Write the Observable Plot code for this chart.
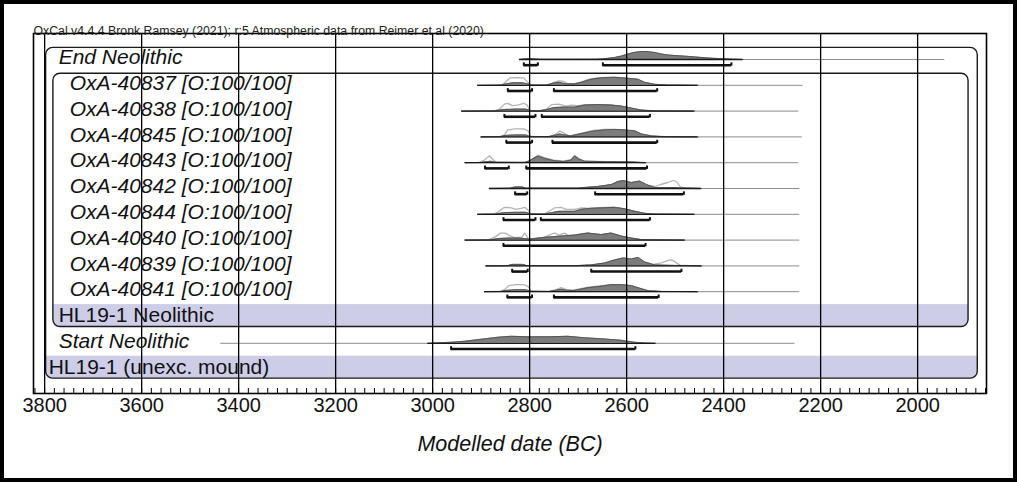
<!DOCTYPE html>
<html><head><meta charset="utf-8">
<script src="https://cdn.jsdelivr.net/npm/d3@7"></script>
<script src="https://cdn.jsdelivr.net/npm/@observablehq/plot@0.6"></script>
<style>
html,body{margin:0;padding:0;background:#fff;}
#wrap{position:relative;width:1017px;height:482px;overflow:hidden;background:#fff;}
#wrap svg{position:absolute;left:0;top:0;}
#border{position:absolute;left:0;top:0;width:1017px;height:482px;box-sizing:border-box;border:4px solid #000;pointer-events:none;}
</style></head><body><div id="wrap"></div>
<script>
// ---------- data ----------
const header = "OxCal v4.4.4 Bronk Ramsey (2021); r:5 Atmospheric data from Reimer et al (2020)";
const axisTitle = "Modelled date (BC)";
const xTicks = [3800, 3600, 3400, 3200, 3000, 2800, 2600, 2400, 2200, 2000];

const rowLabels = [
  "End Neolithic",
  "OxA-40837 [O:100/100]",
  "OxA-40838 [O:100/100]",
  "OxA-40845 [O:100/100]",
  "OxA-40843 [O:100/100]",
  "OxA-40842 [O:100/100]",
  "OxA-40844 [O:100/100]",
  "OxA-40840 [O:100/100]",
  "OxA-40839 [O:100/100]",
  "OxA-40841 [O:100/100]",
  "HL19-1 Neolithic",
  "Start Neolithic",
  "HL19-1 (unexc. mound)"
];
const rowItalic = [true, true, true, true, true, true, true, true, true, true, false, true, false];
const rowDepth  = [1, 2, 2, 2, 2, 2, 2, 2, 2, 2, 1, 1, 0];

// full extent of each row's line (years BC)
const priorSpan = [
  [2821, 1944], [2907, 2236], [2940, 2245], [2900, 2238], [2933, 2245],
  [2883, 2243], [2907, 2243], [2933, 2243], [2890, 2243], [2893, 2243],
  null, [3437, 2253], null
];
// extent of the modelled (posterior) support
const postSpan = [
  [2821, 2360], [2907, 2453], [2940, 2460], [2900, 2453], [2933, 2560],
  [2883, 2446], [2907, 2460], [2933, 2480], [2890, 2445], [2893, 2453],
  null, [3010, 2540], null
];

// 95.4% ranges
const ranges = [
  [[2812, 2783], [2649, 2384]],
  [[2845, 2795], [2750, 2537]],
  [[2852, 2788], [2775, 2552]],
  [[2848, 2795], [2753, 2537]],
  [[2892, 2843], [2807, 2558]],
  [[2830, 2805], [2665, 2482]],
  [[2854, 2788], [2777, 2552]],
  [[2854, 2561]],
  [[2836, 2804], [2673, 2487]],
  [[2846, 2795], [2750, 2534]],
  null,
  [[2962, 2582]],
  null
];

// unmodelled likelihoods (outline) : [year BC, relative height]
const likelihood = [
  null,
  [[2907,0],[2870,0],[2855,1],[2848,4],[2840,7.5],[2825,7.7],[2812,7.5],[2804,3],[2798,0.5],[2780,0.3],[2760,0.5],[2750,3],[2740,4.5],[2730,4],[2722,1.5],[2710,1.5],[2695,3],[2680,6],[2660,7.5],[2640,8],[2620,8],[2600,7],[2580,6],[2565,3],[2545,1],[2520,0.3],[2453,0]],
  [[2940,0],[2875,0],[2862,2],[2852,7],[2845,7.7],[2836,5.5],[2825,6],[2812,7.7],[2805,6],[2800,0.5],[2780,0.3],[2765,2],[2755,6.5],[2740,7],[2725,5],[2715,6],[2700,5.5],[2680,6.5],[2660,6.5],[2640,6.5],[2620,5.5],[2600,4],[2585,2],[2560,0.5],[2460,0]],
  [[2900,0],[2862,0],[2852,2],[2845,7],[2830,8],[2812,8],[2803,6],[2798,0.5],[2760,0.3],[2745,3],[2738,6],[2730,4],[2720,1],[2705,2],[2690,4],[2670,6.5],[2645,7.5],[2625,7.5],[2604,7],[2583,6],[2570,3],[2549,1],[2520,0.3],[2453,0]],
  [[2933,0],[2905,0],[2895,2],[2883,7],[2875,3],[2869,0.5],[2820,0.3],[2800,1],[2790,5],[2783,7.5],[2770,5],[2750,2.5],[2730,1.5],[2715,3],[2707,7.5],[2698,4],[2687,1.5],[2640,1],[2590,0.8],[2570,0.2],[2560,0]],
  [[2883,0],[2840,0.2],[2830,1.5],[2815,1.5],[2808,0.3],[2700,0.3],[2680,1],[2659,2],[2631,3.5],[2618,5.5],[2607,6],[2590,4.5],[2573,5.5],[2559,3],[2542,2],[2530,4],[2515,6],[2504,8],[2497,7],[2490,2],[2480,0.5],[2446,0]],
  [[2907,0],[2875,0.3],[2866,2],[2852,7],[2838,6.5],[2828,5],[2818,6],[2810,7],[2803,4],[2798,0.5],[2770,0.3],[2760,3],[2748,6.5],[2735,7],[2725,5],[2707,5],[2693,6.5],[2673,6],[2650,7],[2625,7],[2604,5.5],[2583,3],[2563,1],[2542,0.3],[2460,0]],
  [[2933,0],[2885,0.3],[2872,3],[2860,7],[2850,7],[2840,4],[2830,2.5],[2816,3],[2810,7],[2805,3],[2800,0.5],[2790,1],[2770,3],[2755,6],[2748,7],[2740,5],[2728,7],[2720,4.5],[2707,5],[2690,6.5],[2680,7],[2665,6],[2652,5.5],[2632,7],[2611,4],[2590,2],[2570,0.5],[2480,0]],
  [[2890,0],[2845,0.2],[2836,1.5],[2815,1.5],[2806,0.3],[2700,0.3],[2673,1],[2645,2.5],[2625,4.5],[2607,6],[2590,5],[2576,6.5],[2563,3.5],[2545,1.5],[2528,3],[2515,5.5],[2508,6],[2500,4],[2490,0.8],[2470,0.3],[2445,0]],
  [[2893,0],[2862,0.2],[2852,2],[2843,6],[2828,7],[2812,7],[2803,5],[2797,0.5],[2760,0.3],[2745,2],[2735,4],[2724,2],[2710,1.5],[2700,2.5],[2680,4.5],[2652,6],[2632,7],[2611,7],[2590,6],[2570,3],[2556,1],[2530,0.3],[2453,0]],
  null, null, null
];

// modelled posteriors (filled) : [year BC, relative height]
const posterior = [
  [[2821,0],[2812,0.6],[2800,1],[2788,0.5],[2780,0.2],[2700,0.2],[2660,0.3],[2645,0.8],[2625,2],[2610,3.5],[2597,5.5],[2585,7],[2570,8],[2555,7.8],[2542,7],[2528,5.5],[2515,4.5],[2501,4],[2470,3],[2432,1.5],[2400,0.7],[2380,0.3],[2360,0]],
  [[2907,0],[2860,0.2],[2848,1.5],[2835,2.5],[2815,2.5],[2805,1.5],[2795,0.3],[2765,0.3],[2752,2],[2740,3],[2725,1.5],[2707,1.5],[2693,3],[2673,6],[2652,7.5],[2625,8],[2597,7],[2576,6],[2563,3],[2542,1],[2515,0.3],[2453,0]],
  [[2940,0],[2870,0.3],[2855,1.5],[2830,2],[2808,2],[2798,0.5],[2780,0.3],[2765,1.5],[2750,3.5],[2730,4],[2707,4],[2687,6],[2659,6.5],[2632,6],[2611,5],[2590,3],[2570,1],[2542,0.3],[2460,0]],
  [[2900,0],[2860,0.3],[2850,1.5],[2830,2],[2808,2],[2798,0.5],[2760,0.3],[2745,2],[2738,3],[2728,2],[2715,1],[2707,2],[2687,4],[2666,6],[2645,7],[2625,7.5],[2604,7],[2583,6],[2570,3],[2549,1],[2528,0.3],[2453,0]],
  [[2933,0],[2900,0.3],[2890,1],[2880,1.5],[2870,0.5],[2810,0.3],[2800,2],[2790,5],[2783,6.5],[2770,4.5],[2750,2],[2730,1.2],[2715,2.5],[2707,6.5],[2698,3.5],[2687,1.5],[2640,1],[2590,0.8],[2570,0.2],[2560,0]],
  [[2883,0],[2840,0.2],[2830,1.5],[2815,1.5],[2808,0.3],[2700,0.3],[2687,1],[2659,2],[2631,4],[2618,7],[2607,8],[2590,6],[2573,7.5],[2559,4],[2542,1],[2520,0.8],[2504,1],[2490,0.5],[2446,0]],
  [[2907,0],[2870,0.3],[2855,1.5],[2830,2],[2808,2],[2798,0.5],[2770,0.3],[2755,1.5],[2740,3],[2720,3],[2707,3],[2693,5],[2673,6],[2645,6.5],[2625,7],[2604,5.5],[2583,3],[2563,1],[2542,0.3],[2460,0]],
  [[2933,0],[2880,0.3],[2865,1.5],[2845,2],[2820,2],[2800,1],[2783,2],[2762,3],[2735,4],[2707,5],[2680,7],[2652,5.5],[2632,7],[2611,4],[2590,2],[2570,0.5],[2480,0]],
  [[2890,0],[2845,0.2],[2836,1.5],[2815,1.5],[2806,0.3],[2700,0.3],[2673,1],[2645,3],[2625,6],[2607,8],[2590,7],[2576,8.5],[2563,4],[2542,1],[2520,0.7],[2500,0.5],[2480,0.3],[2445,0]],
  [[2893,0],[2860,0.2],[2850,1.2],[2830,2],[2808,2],[2797,0.5],[2760,0.3],[2745,1.5],[2735,2.5],[2724,1.5],[2710,1.2],[2700,2],[2680,4],[2652,5.5],[2632,7],[2611,7],[2590,6],[2570,3],[2556,1],[2530,0.3],[2453,0]],
  null,
  [[3010,0],[2990,0.5],[2962,1],[2934,2],[2900,4],[2866,6],[2838,7],[2804,6.5],[2762,6.5],[2721,7],[2687,5.5],[2652,4.5],[2611,3],[2583,1],[2563,0.4],[2540,0]],
  null
];

// grouping boxes: label row, first & last row, horizontal extent (years BC)
const groups = [
  {row: 12, first: 0, last: 12, from: 3797, to: 1876},
  {row: 10, first: 1, last: 10, from: 3782, to: 1895}
];

// ---------- layout constants ----------
const W = 1017, H = 482;
const ROW_PX = 25.8;          // pixels per row
const HS = 1 / ROW_PX;        // density px -> row units
const Y_TOP = -1.008, Y_BOT = 12.946;
const FONT = "'Liberation Sans', Arial, Helvetica, sans-serif";

// ---------- derived tables ----------
const flat = (arr) => arr.flatMap((pts, row) => pts ? pts.map(([year, h]) => ({row, year, h})) : []);
const likePts = flat(likelihood);
const postPts = flat(posterior);
const spanRows = (arr) => arr.flatMap((s, row) => s ? [{row, x1: s[0], x2: s[1]}] : []);
const priorRows = spanRows(priorSpan);
const postRows = spanRows(postSpan);
const rangeRows = ranges.flatMap((rs, row) => rs ? rs.map(([a, b]) => ({row, x1: a, x2: b})) : []);
const rangeEnds = rangeRows.flatMap(r => [{row: r.row, x: r.x1}, {row: r.row, x: r.x2}]);
const labelRows = rowLabels.map((label, row) => ({label, row, italic: rowItalic[row], depth: rowDepth[row]}));
const minorTicks = d3.range(1860, 3821, 20);
const BAR_OFF = 0.22;

const labelMark = (depth, italic) => Plot.text(labelRows.filter(d => d.depth === depth && d.italic === italic), {
  x: () => 3800, y: "row", text: "label", textAnchor: "start",
  dx: [4, 14, 25][depth], dy: -2, fontSize: 21, fontStyle: italic ? "italic" : "normal",
  fill: "#111", fontFamily: FONT
});

const chart = Plot.plot({
  width: W, height: H,
  marginLeft: 33, marginRight: 31, marginTop: 33, marginBottom: H - 393,
  style: {fontFamily: FONT, background: "white", color: "black"},
  x: {domain: [3823, 1858], axis: null},
  y: {domain: [Y_TOP, Y_BOT], reverse: true, axis: null},
  marks: [
    // lavender group bands (square top part + rounded bottom part)
    Plot.rect(groups, {x1: "from", x2: "to", y1: d => d.row - 0.5, y2: d => d.last + 0.1, fill: "#cdcde8"}),
    Plot.rect(groups, {x1: "from", x2: "to", y1: d => d.row - 0.2, y2: d => d.last + 0.37, fill: "#cdcde8", rx: 7}),
    // group boxes
    Plot.rect(groups, {x1: "from", x2: "to", y1: d => d.first - 0.45, y2: d => d.last + 0.37, fill: "none", stroke: "#1a1a1a", strokeWidth: 1.4, rx: 7}),
    // baselines
    Plot.ruleY(priorRows, {y: "row", x1: "x1", x2: "x2", stroke: "#8c8c8c", strokeWidth: 1}),
    // likelihood outlines
    Plot.line(likePts, {x: "year", y: d => d.row - d.h * HS, z: "row", stroke: "#b4b4b4", strokeWidth: 1.3}),
    // posterior fills
    Plot.areaY(postPts, {x: "year", y1: "row", y2: d => d.row - d.h * HS, z: "row", fill: "#7c7c7c"}),
    Plot.line(postPts, {x: "year", y: d => d.row - d.h * HS, z: "row", stroke: "#505050", strokeWidth: 0.9}),
    Plot.ruleY(postRows, {y: "row", x1: "x1", x2: "x2", stroke: "#1a1a1a", strokeWidth: 1.3}),
    // ranges
    Plot.ruleY(rangeRows, {y: d => d.row + BAR_OFF, x1: "x1", x2: "x2", stroke: "#111", strokeWidth: 2.6}),
    Plot.ruleX(rangeEnds, {x: "x", y1: d => d.row + BAR_OFF - 0.09, y2: d => d.row + BAR_OFF + 0.04, stroke: "#111", strokeWidth: 2}),
    // gridlines
    Plot.ruleX(xTicks, {stroke: "#000", strokeWidth: 1.3}),
    // minor ticks
    Plot.ruleX(minorTicks, {x: d => d, y1: Y_BOT, y2: Y_BOT - 5 * HS, stroke: "#000", strokeWidth: 1}),
    // labels
    labelMark(1, true), labelMark(2, true), labelMark(1, false), labelMark(0, false),
    // frame
    Plot.frame({stroke: "#000", strokeWidth: 1.6}),
    // axis
    Plot.axisX(xTicks, {anchor: "bottom", tickSize: 0, tickPadding: 4, fontSize: 20, tickFormat: d => String(d), label: null, fill: "#111"}),
    Plot.text([axisTitle], {frameAnchor: "bottom", dy: 57, fontSize: 21.5, fontStyle: "italic", fill: "#111"}),
    Plot.text([header], {frameAnchor: "top-left", dy: -7, textAnchor: "start", fontSize: 12.3, fill: "#222"})
  ]
});

const wrap = document.getElementById("wrap");
wrap.appendChild(chart);
const border = document.createElement("div");
border.id = "border";
wrap.appendChild(border);
</script>
</body></html>
